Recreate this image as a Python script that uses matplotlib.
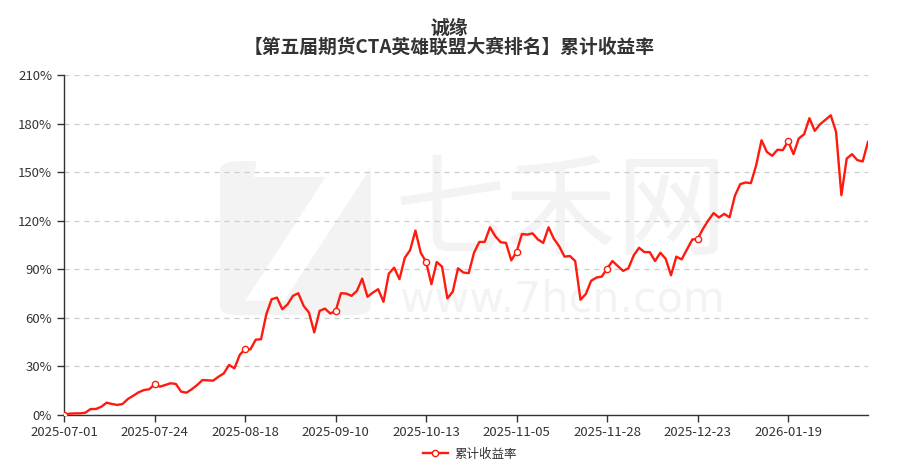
import numpy as np
import matplotlib
matplotlib.use('Agg')
import matplotlib.pyplot as plt
from matplotlib.patches import FancyBboxPatch

plt.rcParams['font.family'] = ['Noto Sans CJK SC', 'DejaVu Sans']

title = '诚缘'
subtitle = '【第五届期货CTA英雄联盟大赛排名】累计收益率'
series_name = '累计收益率'

# x tick labels, one every 17 trading days
tick_labels = ['2025-07-01', '2025-07-24', '2025-08-18', '2025-09-10', '2025-10-13',
               '2025-11-05', '2025-11-28', '2025-12-23', '2026-01-19']
tick_step = 17

# cumulative return (%), one value per trading day
returns = [
    0.0, 0.8, 1.0, 1.0, 1.4, 3.7, 3.7, 5.1, 7.6, 6.8,
    6.2, 6.8, 9.9, 11.9, 14.0, 15.4, 15.9, 18.9, 17.5, 18.5,
    19.6, 19.2, 14.4, 13.8, 15.9, 18.5, 21.6, 21.4, 21.2, 23.6,
    25.7, 30.9, 28.8, 37.1, 40.8, 40.5, 46.5, 46.8, 62.3, 71.5,
    72.5, 65.3, 68.4, 73.6, 75.2, 67.4, 63.3, 51.0, 64.3, 65.7,
    62.7, 64.1, 75.2, 75.0, 73.6, 76.6, 84.2, 73.0, 75.6, 77.7,
    69.9, 87.3, 91.0, 83.9, 97.1, 101.8, 113.9, 100.2, 94.5, 80.8,
    94.5, 91.6, 72.0, 76.1, 90.6, 88.0, 87.6, 100.2, 106.9, 106.9,
    115.9, 110.4, 106.7, 106.3, 95.5, 100.8, 111.8, 111.4, 112.2, 108.4,
    106.3, 115.9, 108.8, 104.2, 97.8, 98.2, 95.1, 71.2, 74.7, 82.9,
    84.9, 85.5, 90.4, 95.1, 92.0, 89.0, 90.6, 98.6, 103.3, 100.6,
    100.6, 95.1, 100.2, 96.5, 86.3, 97.8, 96.1, 102.2, 108.4, 108.8,
    114.9, 120.2, 124.7, 122.0, 124.2, 122.1, 135.4, 142.6, 143.6, 143.2,
    154.3, 169.7, 162.5, 160.1, 163.8, 163.6, 169.1, 161.1, 170.8, 173.4,
    183.3, 175.5, 179.6, 182.3, 185.1, 174.9, 135.8, 158.4, 161.1, 157.4,
    156.6, 168.7,
]


def watermark(fig, ax):
    gray = '#f3f3f3'
    # logo block with a white "7" cut out
    logo = FancyBboxPatch((0.245, 0.335), 0.168, 0.325, boxstyle='round,pad=0.0,rounding_size=0.02',
                          transform=fig.transFigure, facecolor=gray, edgecolor='none', zorder=0)
    ax.add_patch(logo)
    ax.text(0.335, 0.49, '7', transform=fig.transFigure, fontsize=150, color='white',
            fontweight='bold', style='italic', family='DejaVu Sans', ha='center', va='center', zorder=0.1)
    ax.text(0.625, 0.548, '七禾网', transform=fig.transFigure, fontsize=80, color=gray,
            ha='center', va='center', zorder=0)
    ax.text(0.626, 0.368, 'www.7hcn.com', transform=fig.transFigure, fontsize=31, color=gray,
            family='DejaVu Sans', ha='center', va='center', zorder=0)


def main():
    fig = plt.figure(figsize=(8.98, 4.74), dpi=100)
    fig.subplots_adjust(left=0.0713, right=0.9666, bottom=0.1245, top=0.8418)
    ax = fig.add_subplot(111)

    x = np.arange(len(returns))
    watermark(fig, ax)

    ax.plot(x, returns, color='#ff1a0e', linewidth=1.7, marker='o', markevery=tick_step,
            markersize=4.5, markerfacecolor='white', markeredgecolor='#ff1a0e', markeredgewidth=1.0,
            label=series_name, zorder=3)

    ax.set_xlim(0, len(returns) - 1)
    ax.set_ylim(0, 210)
    ax.set_yticks(np.arange(0, 211, 30))
    ax.set_yticklabels(['%d%%' % v for v in range(0, 211, 30)])
    ax.set_xticks(np.arange(0, len(tick_labels) * tick_step, tick_step))
    ax.set_xticklabels(tick_labels)

    ax.set_axisbelow(True)
    ax.grid(axis='y', color='#cccccc', linestyle=(0, (4, 4)), linewidth=0.9)
    for s in ['top', 'right']:
        ax.spines[s].set_visible(False)
    for s in ['left', 'bottom']:
        ax.spines[s].set_color('#333333')
        ax.spines[s].set_linewidth(1.0)
    ax.tick_params(colors='#333333', labelsize=9.5, length=5, width=1.0)
    ax.tick_params(axis='x', pad=3)

    fig.text(0.5, 0.94, title, ha='center', va='center', fontsize=13.5, fontweight='bold', color='#333333')
    fig.text(0.5, 0.90, subtitle, ha='center', va='center', fontsize=13.5, fontweight='bold', color='#333333')

    leg = fig.legend(loc='center', bbox_to_anchor=(0.523, 0.042), frameon=False, fontsize=9,
                     handlelength=2.0, handletextpad=0.5)
    for t in leg.get_texts():
        t.set_color('#333333')

    fig.savefig('out.png', dpi=100)


if __name__ == '__main__':
    main()
